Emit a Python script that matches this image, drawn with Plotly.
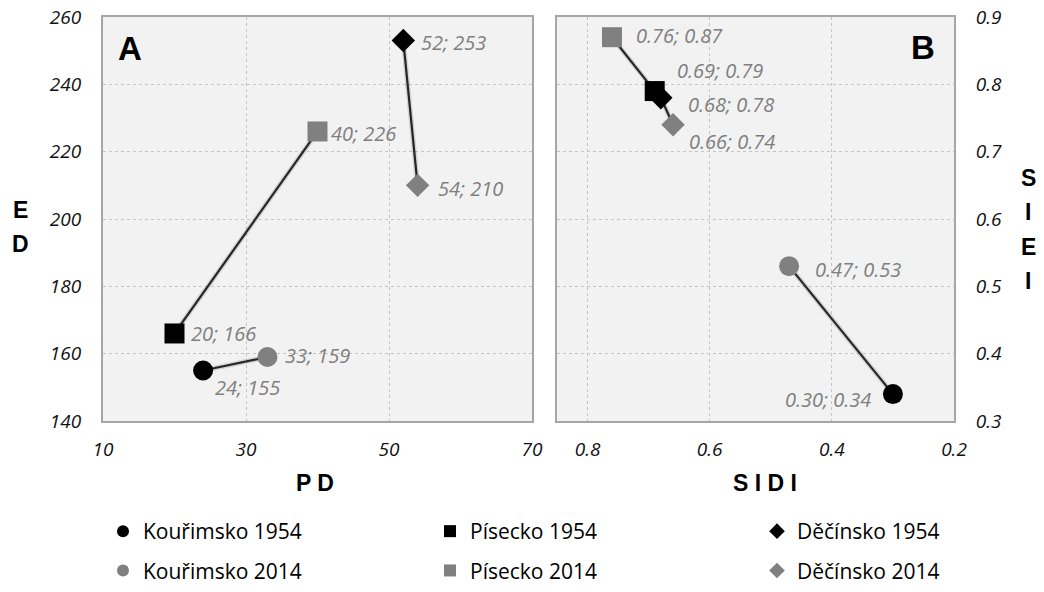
import plotly.graph_objects as go

# Regions and survey years
regions = ["Kouřimsko", "Písecko", "Děčínsko"]
year_old = "1954"
year_new = "2014"

# Panel A: PD (x) vs ED (y)
pd_1954 = [24, 20, 52]
ed_1954 = [155, 166, 253]
pd_2014 = [33, 40, 54]
ed_2014 = [159, 226, 210]

# Panel B: SIDI (x) vs SIEI (y)
sidi_1954 = [0.30, 0.69, 0.68]
siei_1954 = [0.34, 0.79, 0.78]
sidi_2014 = [0.47, 0.76, 0.66]
siei_2014 = [0.53, 0.87, 0.74]

# Axis ticks
pd_ticks = [10, 30, 50, 70]
ed_ticks = [140, 160, 180, 200, 220, 240, 260]
sidi_ticks = [0.8, 0.6, 0.4, 0.2]
siei_ticks = [0.3, 0.4, 0.5, 0.6, 0.7, 0.8, 0.9]

W, H = 1044, 592
BLACK = "#000000"
GREY = "#808080"
LABEL_GREY = "#7f7f7f"
LINE = "#262626"
symbols = ["circle", "square", "diamond"]
sizes = [20, 20, 18]

FONT = "Open Sans, Liberation Sans, sans-serif"
BOLD = "Liberation Sans, Arial, sans-serif"


def px(x):
    return x / W


def py(y):
    return 1 - y / H


fig = go.Figure()

panels = [
    ("x", "y", pd_1954, ed_1954, pd_2014, ed_2014),
    ("x2", "y2", sidi_1954, siei_1954, sidi_2014, siei_2014),
]

# connecting lines (soft shadow + line) from 1954 to 2014
for xa, ya, x0s, y0s, x1s, y1s in panels:
    for i in range(len(regions)):
        for col, wd in (("rgba(0,0,0,0.12)", 5), (LINE, 2.2)):
            fig.add_trace(go.Scatter(
                x=[x0s[i], x1s[i]], y=[y0s[i], y1s[i]], xaxis=xa, yaxis=ya,
                mode="lines", line=dict(color=col, width=wd),
                showlegend=False, hoverinfo="skip"))

# markers; one legend column per region
legend_ids = ["legend", "legend2", "legend3"]
for p, (xa, ya, x0s, y0s, x1s, y1s) in enumerate(panels):
    for i, reg in enumerate(regions):
        fig.add_trace(go.Scatter(
            x=[x0s[i]], y=[y0s[i]], xaxis=xa, yaxis=ya, mode="markers",
            marker=dict(symbol=symbols[i], size=sizes[i], color=BLACK),
            name=f"{reg} {year_old}", legend=legend_ids[i],
            legendgroup=f"{reg}{year_old}", showlegend=(p == 0)))
        fig.add_trace(go.Scatter(
            x=[x1s[i]], y=[y1s[i]], xaxis=xa, yaxis=ya, mode="markers",
            marker=dict(symbol=symbols[i], size=sizes[i], color=GREY),
            name=f"{reg} {year_new}", legend=legend_ids[i],
            legendgroup=f"{reg}{year_new}", showlegend=(p == 0)))

# value labels
lab_font = dict(family=FONT, size=20, color=LABEL_GREY, style="italic")
# (xshift, yshift, anchor) for each label: 1954 then 2014, per region
a_off_1954 = [(10, -17, "left"), (14, 0, "left"), (16, -2, "left")]
a_off_2014 = [(16, 2, "left"), (11, -2, "left"), (18, -3, "left")]
b_off_1954 = [(-20, -5, "right"), (20, 21, "left"), (25, -7, "left")]
b_off_2014 = [(24, -3, "left"), (22, 2, "left"), (14, -17, "left")]

ann = []


def add_labels(xs, ys, offs, xref, yref, fmt):
    for x, y, (dx, dy, anc) in zip(xs, ys, offs):
        ann.append(dict(x=x, y=y, xref=xref, yref=yref, text=fmt(x, y),
                        showarrow=False, xanchor=anc, yanchor="middle",
                        xshift=dx, yshift=dy, font=lab_font))


add_labels(pd_1954, ed_1954, a_off_1954, "x", "y", lambda a, b: f"{a:g}; {b:g}")
add_labels(pd_2014, ed_2014, a_off_2014, "x", "y", lambda a, b: f"{a:g}; {b:g}")
add_labels(sidi_1954, siei_1954, b_off_1954, "x2", "y2", lambda a, b: f"{a:.2f}; {b:.2f}")
add_labels(sidi_2014, siei_2014, b_off_2014, "x2", "y2", lambda a, b: f"{a:.2f}; {b:.2f}")

# panel letters
for t, x, y in (("A", 130, 48), ("B", 923, 47)):
    ann.append(dict(x=px(x), y=py(y), xref="paper", yref="paper", text=f"<b>{t}</b>",
                    showarrow=False, xanchor="center", yanchor="middle",
                    font=dict(family=BOLD, size=33, color=BLACK)))

# axis titles
title_font = dict(family=BOLD, size=23, color=BLACK)
for t, x, y in (("P D", 315, 483), ("S I D I", 765, 483)):
    ann.append(dict(x=px(x), y=py(y), xref="paper", yref="paper", text=f"<b>{t}</b>",
                    showarrow=False, xanchor="center", yanchor="middle", font=title_font))
for t, x, y in (("E", 20, 210), ("D", 20, 244),
                ("S", 1028, 178), ("I", 1028, 212), ("E", 1028, 247), ("I", 1028, 281)):
    ann.append(dict(x=px(x), y=py(y), xref="paper", yref="paper", text=f"<b>{t}</b>",
                    showarrow=False, xanchor="center", yanchor="middle", font=title_font))

tick_font = dict(family=FONT, size=19, color="#111111", style="italic")
axis_common = dict(
    showline=True, linecolor="#a6a6a6", linewidth=2, mirror=True,
    showgrid=True, gridcolor="#c4c4c4", griddash="dot", gridwidth=1,
    zeroline=False, ticks="", tickfont=tick_font, automargin=False,
)

legend_common = dict(
    orientation="v", xanchor="left", yanchor="top", y=py(511),
    tracegroupgap=9, itemsizing="constant", borderwidth=0,
    font=dict(family=FONT, size=21, color=BLACK),
    bgcolor="rgba(0,0,0,0)", traceorder="grouped",
)

top, bottom = 17, 421
fig.update_layout(
    width=W, height=H, autosize=False,
    margin=dict(l=0, r=0, t=0, b=0),
    paper_bgcolor="white", plot_bgcolor="#f2f2f2",
    xaxis=dict(domain=[px(103), px(532)], range=[10, 70], tickvals=pd_ticks,
               anchor="y", ticklabelstandoff=10, **axis_common),
    yaxis=dict(domain=[py(bottom), py(top)], range=[140, 260], tickvals=ed_ticks,
               anchor="x", ticklabelstandoff=16, **axis_common),
    xaxis2=dict(domain=[px(557), px(954)], range=[0.85, 0.2], tickvals=sidi_ticks,
                tickformat=".1f", anchor="y2", ticklabelstandoff=10, **axis_common),
    yaxis2=dict(domain=[py(bottom), py(top)], range=[0.3, 0.9], tickvals=siei_ticks,
                tickformat=".1f", anchor="x2", side="right", ticklabelstandoff=16,
                **axis_common),
    legend=dict(x=px(103), **legend_common),
    legend2=dict(x=px(430), **legend_common),
    legend3=dict(x=px(757), **legend_common),
    annotations=ann,
    showlegend=True,
)

fig.write_html("out.html")
